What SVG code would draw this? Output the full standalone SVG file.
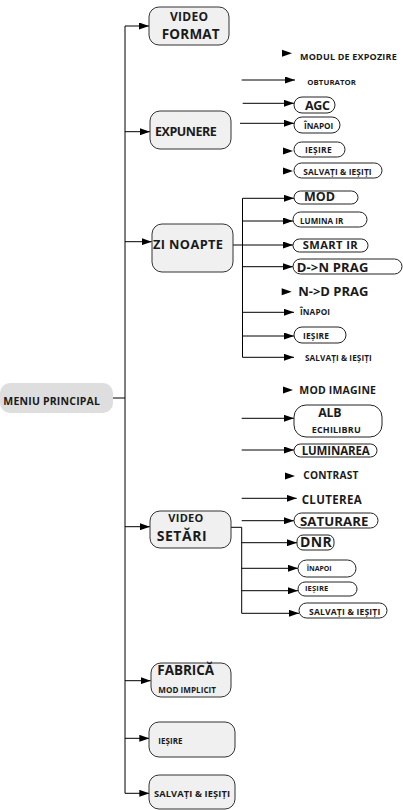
<svg xmlns="http://www.w3.org/2000/svg" xmlns:xlink="http://www.w3.org/1999/xlink" width="403" height="810" viewBox="0 0 403 810">
<style>
text{font-family:"Open Sans","Noto Sans","DejaVu Sans",sans-serif;font-weight:bold;fill:#1a1a1a}
.main{fill:#f0f0f0;stroke:#333;stroke-width:1}
.pill{fill:#fff;stroke:#222;stroke-width:1}
.ln{fill:none;stroke:#000;stroke-width:1}
.ar{marker-end:url(#ah)}
.head{fill:#000}
</style>
<defs>
<marker id="ah" markerUnits="userSpaceOnUse" markerWidth="10" markerHeight="7" refX="10" refY="3.5" orient="auto"><path d="M0,0 L10,3.5 L0,7 z" fill="#000"/></marker>
<path id="h" d="M-10,-3.5 L0,0 L-10,3.5 z"/>
</defs>
<g id="connectors">
<path class="ln" d="M125,26 V793.3 M113,398 H125"/>
<path class="ln ar" d="M125,26 H149"/>
<path class="ln ar" d="M125,131.7 H150"/>
<path class="ln ar" d="M125,241.7 H151.7"/>
<path class="ln ar" d="M125,526.7 H150"/>
<path class="ln ar" d="M125,680.7 H150.7"/>
<path class="ln ar" d="M125,738.3 H149.3"/>
<path class="ln ar" d="M125,793.3 H149.3"/>
<path class="ln ar" d="M241.7,80 H295"/>
<path class="ln ar" d="M242.7,103.3 H294"/>
<path class="ln ar" d="M240,123.3 H294"/>
<use href="#h" class="head" x="292" y="53.3"/>
<use href="#h" class="head" x="293" y="151"/>
<use href="#h" class="head" x="293" y="171"/>
<path class="ln" d="M242.5,198.3 V357.3 M232.7,245 H242.5"/>
<path class="ln ar" d="M242.5,198.3 H294"/>
<path class="ln ar" d="M242.5,221 H293"/>
<path class="ln ar" d="M242.5,245 H293"/>
<path class="ln ar" d="M242.5,266.7 H293"/>
<use href="#h" class="head" x="291.7" y="291.7"/>
<path class="ln ar" d="M242.5,312.3 H294"/>
<path class="ln ar" d="M242.5,336 H294"/>
<path class="ln ar" d="M242.5,357.3 H294"/>
<use href="#h" class="head" x="293" y="390"/>
<path class="ln ar" d="M241.7,418.3 H294"/>
<path class="ln ar" d="M241.7,450 H294"/>
<use href="#h" class="head" x="295" y="476"/>
<path class="ln ar" d="M241.7,498.3 H296.7"/>
<path class="ln ar" d="M241.7,520.7 H294"/>
<path class="ln" d="M231,527.3 H241.7 V613.3"/>
<path class="ln ar" d="M241.7,542.7 H297"/>
<path class="ln ar" d="M241.7,568.3 H298"/>
<path class="ln ar" d="M241.7,590.7 H298"/>
<path class="ln ar" d="M241.7,613.3 H299"/>
</g>
<g id="meniu-principal">
<rect x="0" y="383" width="113" height="30" rx="10" fill="#dedede"/>
<text x="3.3" y="405" font-size="10.5" textLength="96.7">MENIU PRINCIPAL</text>
</g>
<g id="video-format">
<rect class="main" x="149" y="7" width="80" height="38" rx="10"/>
<text x="170" y="20.7" font-size="12" textLength="38">VIDEO</text>
<text x="161.7" y="39.3" font-size="13.5" textLength="58">FORMAT</text>
</g>
<g id="modul-expozire"><text x="300" y="60" font-size="9" textLength="96.7">MODUL DE EXPOZIRE</text></g>
<g id="obturator"><text x="307.3" y="84.5" font-size="7.8" textLength="48.7">OBTURATOR</text></g>
<g id="expunere">
<rect class="main" x="150" y="111" width="81" height="38" rx="10"/>
<text x="155" y="136" font-size="12.5" textLength="61.7">EXPUNERE</text>
</g>
<g id="agc"><rect class="pill" x="294" y="97" width="41" height="16" rx="8"/><text x="305" y="110" font-size="12.5" textLength="25">AGC</text></g>
<g id="inapoi-1"><rect class="pill" x="294" y="117" width="46" height="16" rx="8"/><text x="304" y="129.3" font-size="8.2" textLength="29.3">ÎNAPOI</text></g>
<g id="iesire-1"><rect class="pill" x="294" y="142" width="51" height="15" rx="7.5"/><text x="305" y="153.3" font-size="8.5" textLength="26.7">IEȘIRE</text></g>
<g id="salvati-1"><rect class="pill" x="294" y="163" width="88" height="15" rx="7.5"/><text x="303.3" y="175" font-size="8.4" textLength="68.3">SALVAȚI &amp; IEȘIȚI</text></g>
<g id="zi-noapte">
<rect class="main" x="152" y="224" width="81" height="48" rx="10"/>
<text x="153" y="249" font-size="12.8" textLength="70">ZI NOAPTE</text>
</g>
<g id="mod"><rect class="pill" x="294" y="191" width="64" height="13" rx="6.5"/><text x="304" y="201" font-size="12.5" textLength="31">MOD</text></g>
<g id="lumina-ir"><rect class="pill" x="293" y="212" width="74" height="15" rx="7.5"/><text x="300" y="224.3" font-size="8" textLength="43.3">LUMINA IR</text></g>
<g id="smart-ir"><rect class="pill" x="293" y="239" width="75" height="13" rx="6.5"/><text x="302.7" y="248.8" font-size="11.2" textLength="55">SMART IR</text></g>
<g id="dn-prag"><rect class="pill" x="293" y="259" width="109" height="15" rx="7.5"/><text x="296.7" y="272.3" font-size="13" textLength="71.7">D-&gt;N PRAG</text></g>
<g id="nd-prag"><text x="298.3" y="295.7" font-size="13" textLength="70">N-&gt;D PRAG</text></g>
<g id="inapoi-2"><text x="300" y="315" font-size="8.2" textLength="30">ÎNAPOI</text></g>
<g id="iesire-2"><rect class="pill" x="294" y="327" width="52" height="16" rx="8"/><text x="303" y="339.3" font-size="8.4" textLength="26">IEȘIRE</text></g>
<g id="salvati-2"><text x="305" y="361" font-size="8.2" textLength="66.7">SALVAȚI &amp; IEȘIȚI</text></g>
<g id="mod-imagine"><text x="299.3" y="394.3" font-size="10.5" textLength="76.7">MOD IMAGINE</text></g>
<g id="alb-echilibru"><rect class="pill" x="294" y="405" width="88" height="32" rx="12"/>
<text x="318.3" y="416.7" font-size="12.3" textLength="23.3">ALB</text>
<text x="311.7" y="433.3" font-size="9" textLength="49">ECHILIBRU</text></g>
<g id="luminarea"><rect class="pill" x="294" y="444" width="83" height="13" rx="6.5"/><text x="301.7" y="455" font-size="11.5" textLength="68">LUMINAREA</text></g>
<g id="contrast"><text x="303.3" y="479.3" font-size="10.2" textLength="55">CONTRAST</text></g>
<g id="cluterea"><text x="301.7" y="504" font-size="11.5" textLength="60">CLUTEREA</text></g>
<g id="video-setari">
<rect class="main" x="150" y="511" width="81" height="37" rx="10"/>
<text x="168.3" y="522.3" font-size="11" textLength="35">VIDEO</text>
<text x="156.7" y="540.7" font-size="14" textLength="50">SETĂRI</text>
</g>
<g id="saturare"><rect class="pill" x="294" y="513" width="84" height="15" rx="7.5"/><text x="300" y="526" font-size="13.2" textLength="68.3">SATURARE</text></g>
<g id="dnr"><rect class="pill" x="297" y="535" width="37" height="15" rx="6"/><text x="300" y="546.7" font-size="14" textLength="31.7">DNR</text></g>
<g id="inapoi-3"><rect class="pill" x="298" y="560" width="58" height="17" rx="8.5"/><text x="306.7" y="570.7" font-size="7" textLength="25">ÎNAPOI</text></g>
<g id="iesire-3"><rect class="pill" x="298" y="582" width="59" height="14" rx="7"/><text x="305" y="591" font-size="7.6" textLength="23.3">IEȘIRE</text></g>
<g id="salvati-3"><rect class="pill" x="299" y="603" width="88" height="15" rx="7.5"/><text x="309" y="615" font-size="8.6" textLength="71.3">SALVAȚI &amp; IEȘIȚI</text></g>
<g id="fabrica">
<rect class="main" x="151" y="663" width="80" height="34" rx="10"/>
<text x="157.3" y="675" font-size="13.5" textLength="56.7">FABRICĂ</text>
<text x="158.3" y="693.3" font-size="8.1" textLength="57.7">MOD IMPLICIT</text>
</g>
<g id="iesire-main">
<rect class="main" x="149" y="722" width="86" height="35" rx="10"/>
<text x="158.3" y="744" font-size="8" textLength="24.3">IEȘIRE</text>
</g>
<g id="salvati-main">
<rect class="main" x="149" y="775" width="86" height="34" rx="10"/>
<text x="154" y="797.3" font-size="9.3" textLength="76">SALVAȚI &amp; IEȘIȚI</text>
</g>
</svg>
